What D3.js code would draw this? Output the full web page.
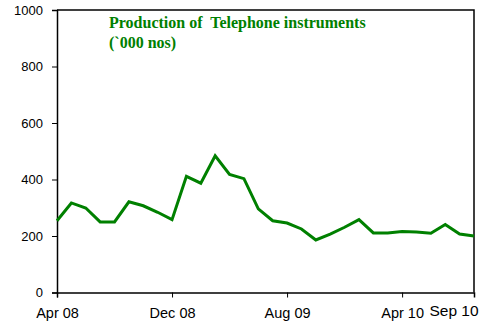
<!DOCTYPE html>
<html>
<head>
<meta charset="utf-8">
<script src="https://cdn.jsdelivr.net/npm/d3@7"></script>
<style>
  html, body { margin: 0; padding: 0; background: #fff; }
  svg { display: block; }
</style>
</head>
<body>
<svg id="chart" width="482" height="324"></svg>
<script>
// Monthly production of telephone instruments, Apr 2008 – Sep 2010 ('000 nos)
const months = [
  "Apr 08","May 08","Jun 08","Jul 08","Aug 08","Sep 08","Oct 08","Nov 08","Dec 08",
  "Jan 09","Feb 09","Mar 09","Apr 09","May 09","Jun 09","Jul 09","Aug 09","Sep 09",
  "Oct 09","Nov 09","Dec 09","Jan 10","Feb 10","Mar 10","Apr 10","May 10","Jun 10",
  "Jul 10","Aug 10","Sep 10"
];
const production = [
  254, 317, 299, 250, 250, 321, 307, 284, 258,
  411, 387, 484, 418, 403, 296, 254, 246, 225,
  186, 207, 231, 258, 211, 211, 216, 214, 210,
  241, 207, 200
];
const yTicks = [0, 200, 400, 600, 800, 1000];
const xTickLabels = ["Apr 08", "Dec 08", "Aug 09", "Apr 10"];
const lastLabel = "Sep 10";
const titleLines = ["Production of  Telephone instruments", "(`000 nos)"];

const svg = d3.select("#chart");
const m = { left: 57, right: 474, top: 10, bottom: 292.5 };

const x = d3.scalePoint().domain(months).range([m.left, m.right]);
const y = d3.scaleLinear().domain([0, 1000]).range([m.bottom, m.top]);

// Plot frame (top and right edges)
svg.append("path")
  .attr("d", `M${m.left},${m.top}H${m.right}V${m.bottom}`)
  .attr("fill", "none").attr("stroke", "#000").attr("stroke-width", 1.5);

// Y axis
const yAxis = svg.append("g")
  .attr("transform", `translate(${m.left},0)`)
  .call(d3.axisLeft(y).tickValues(yTicks).tickSize(5).tickPadding(9).tickFormat(d3.format("d")));
yAxis.select(".domain").attr("stroke-width", 1.5);
yAxis.selectAll(".tick line").attr("stroke-width", 1);
yAxis.selectAll("text")
  .attr("font-family", "Liberation Sans, Arial, sans-serif")
  .attr("font-size", 13).attr("fill", "#000");

// X axis
const xAxis = svg.append("g")
  .attr("transform", `translate(0,${m.bottom})`)
  .call(d3.axisBottom(x).tickValues(xTickLabels).tickSize(5).tickPadding(10.7));
xAxis.select(".domain").attr("stroke-width", 1.5);
xAxis.selectAll(".tick line").attr("stroke-width", 1);
xAxis.selectAll("text")
  .attr("font-family", "Liberation Sans, Arial, sans-serif")
  .attr("font-size", 14.5).attr("fill", "#000");

// End-of-range label, set slightly larger and higher
svg.append("text")
  .attr("x", x(lastLabel) - 20)
  .attr("y", 315.7)
  .attr("text-anchor", "middle")
  .attr("font-family", "Liberation Sans, Arial, sans-serif")
  .attr("font-size", 15.5)
  .text(lastLabel);

// Production line
const line = d3.line()
  .x((d, i) => x(months[i]))
  .y(d => y(d));
svg.append("path")
  .datum(production)
  .attr("d", line)
  .attr("fill", "none")
  .attr("stroke", "#008000")
  .attr("stroke-width", 3)
  .attr("stroke-linejoin", "miter");

// Title
svg.append("g").selectAll("text")
  .data(titleLines)
  .join("text")
  .attr("x", 109)
  .attr("y", (d, i) => 28 + i * 19.5)
  .attr("font-family", "Liberation Serif, Times New Roman, serif")
  .attr("font-weight", "bold")
  .attr("font-size", 16)
  .attr("fill", "#008000")
  .attr("xml:space", "preserve")
  .style("white-space", "pre")
  .text(d => d);
</script>
</body>
</html>
